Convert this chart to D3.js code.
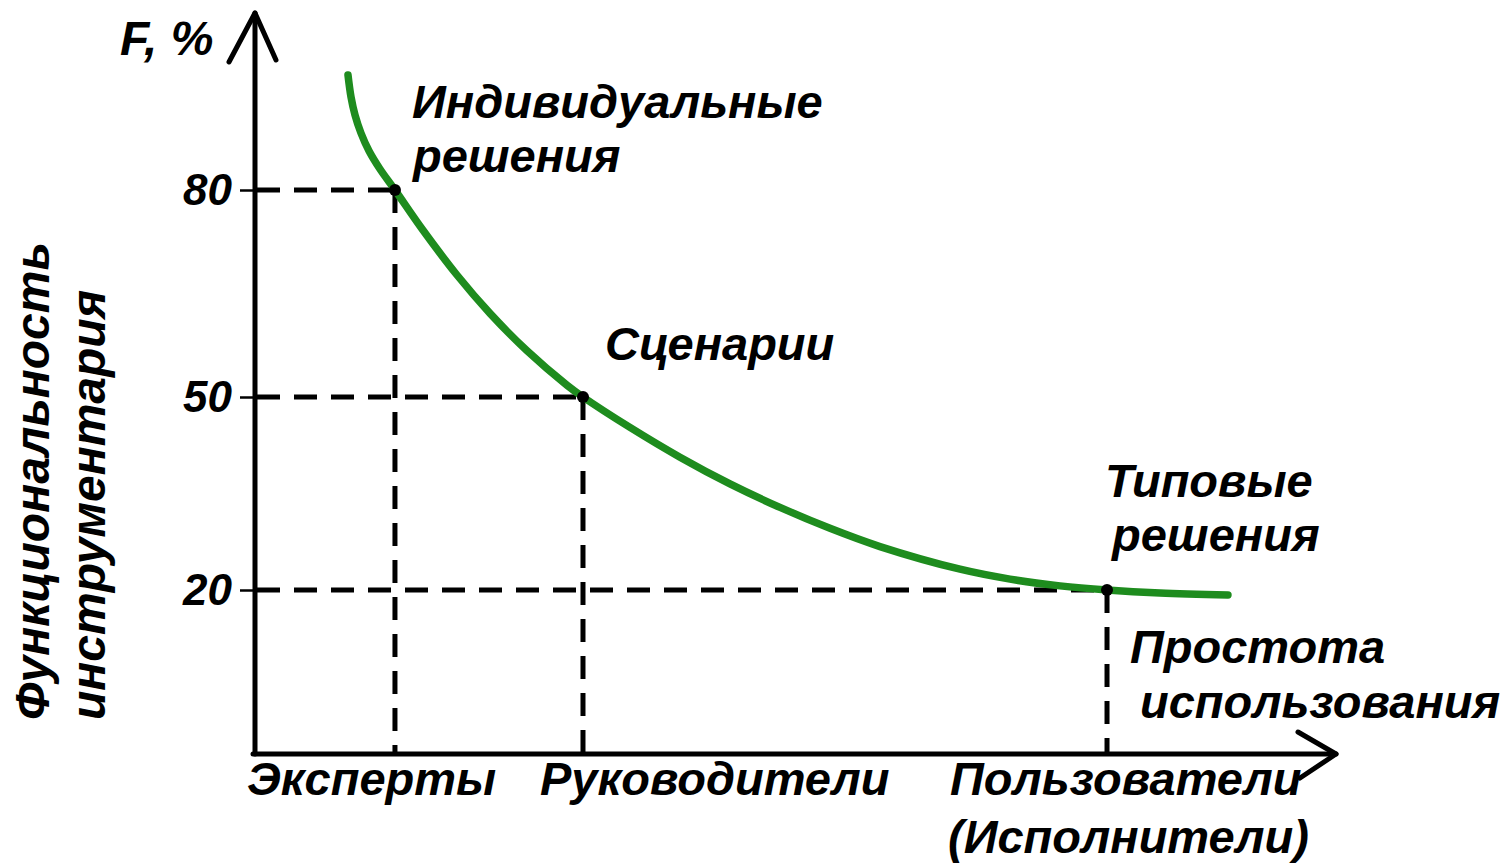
<!DOCTYPE html>
<html>
<head>
<meta charset="utf-8">
<script src="https://cdn.jsdelivr.net/npm/d3@7"></script>
<style>
  body { margin: 0; background: #fff; }
  svg { display: block; }
  text { font-family: "Liberation Sans", Arial, sans-serif; font-weight: bold; font-style: italic; fill: #000; }
</style>
</head>
<body>
<script>
// curve: functionality vs. user group (x in % of axis length, y in F, %)
const curveX = [8.61, 8.89, 9.26, 9.81, 10.56, 11.57, 12.96, 15.56, 18.70, 21.76, 25.19, 28.89, 30.37,
  34.72, 39.35, 43.98, 48.61, 53.24, 57.87, 65.28, 69.91, 74.54, 78.89, 83.80, 90.09]
const curveY = [96.67, 93.48, 90.87, 88.26, 85.65, 83.04, 80, 74.16, 67.68, 62.12, 56.70, 51.71, 50,
  45.27, 40.64, 36.49, 32.84, 29.59, 26.75, 23.23, 21.69, 20.64, 20, 19.63, 19.39]

// marked points
const groups = ["Эксперты", "Руководители", "Пользователи"]
const groupX = [12.96, 30.37, 78.89]
const groupF = [80, 50, 20]
const groupExtra = [null, null, "(Исполнители)"]
const pointLabels = [["Индивидуальные", "решения"], ["Сценарии"], ["Типовые", "решения"]]

const yTicks = [20, 50, 80]
const yTitle = ["Функциональность", "инструментария"]
const xNote = ["Простота", "использования"]

const width = 1504
const height = 865
const fs = 47

const svg = d3.select("body").append("svg")
    .attr("width", width)
    .attr("height", height)

const x = d3.scaleLinear().domain([0, 100]).range([255, 1335])
const y = d3.scaleLinear().domain([0, 20, 50, 80, 100]).range([754, 590, 397, 190, 52])

const pts = groups.map((g, i) => ({ name: g, x: groupX[i], f: groupF[i], extra: groupExtra[i], lab: pointLabels[i] }))

// dashed guides
const guides = svg.append("g")
    .attr("stroke", "#000")
    .attr("stroke-width", 5)
    .attr("stroke-dasharray", "23,14")
    .attr("fill", "none")

guides.selectAll("line.h")
  .data(pts)
  .join("line")
    .attr("class", "h")
    .attr("x1", x(0) + 2)
    .attr("x2", d => x(d.x))
    .attr("y1", d => y(d.f))
    .attr("y2", d => y(d.f))

guides.selectAll("line.v")
  .data(pts)
  .join("line")
    .attr("class", "v")
    .attr("x1", d => x(d.x))
    .attr("x2", d => x(d.x))
    .attr("y1", d => y(d.f))
    .attr("y2", y(0))

// y ticks + labels
const yAxis = svg.append("g")
    .attr("transform", `translate(${x(0)},0)`)
    .call(d3.axisLeft(y).tickValues(yTicks).tickSize(15).tickPadding(8))
yAxis.select(".domain").remove()
yAxis.selectAll(".tick line").attr("stroke", "#000").attr("stroke-width", 2.5)
yAxis.selectAll(".tick text")
    .attr("font-size", 44)
    .attr("font-family", null)
    .attr("fill", "#000")

// axes with open arrow heads
const ax = svg.append("g")
    .attr("stroke", "#000")
    .attr("stroke-width", 5)
    .attr("fill", "none")
    .attr("stroke-linecap", "round")
    .attr("stroke-linejoin", "round")

ax.append("path")
    .attr("d", `M${x(0)},${y(0)}V13`)
ax.append("path")
    .attr("d", `M${x(0) - 26},62L${x(0)},13L${x(0) + 21},60`)
ax.append("path")
    .attr("d", `M${x(0) - 2},${y(0)}H1336`)
ax.append("path")
    .attr("d", `M1298,${y(0) - 22}L1336,${y(0)}L1300,${y(0) + 24}`)

// green curve
const line = d3.line()
    .x(d => x(d[0]))
    .y(d => y(d[1]))
    .curve(d3.curveCatmullRom.alpha(0.5))

svg.append("path")
    .datum(d3.zip(curveX, curveY))
    .attr("d", line)
    .attr("fill", "none")
    .attr("stroke", "#1e8c1e")
    .attr("stroke-width", 7.5)
    .attr("stroke-linecap", "round")

// points
svg.selectAll("circle")
  .data(pts)
  .join("circle")
    .attr("cx", d => x(d.x))
    .attr("cy", d => y(d.f))
    .attr("r", 6)
    .attr("fill", "#000")

// point labels (offsets are layout only)
const labOff = [[17, -72], [22, -37], [-2, -93]]
pts.forEach((d, i) => {
  const t = svg.append("text")
      .attr("font-size", fs)
      .attr("x", x(d.x) + labOff[i][0])
      .attr("y", y(d.f) + labOff[i][1])
  d.lab.forEach((s, j) => {
    t.append("tspan")
        .attr("x", x(d.x) + labOff[i][0] + (j ? (i === 0 ? 1 : 7) : 0))
        .attr("dy", j ? 54 : 0)
        .text(s)
  })
})

// x category labels
const catOff = [-148, -43, -157]
pts.forEach((d, i) => {
  svg.append("text")
      .attr("font-size", fs)
      .attr("x", x(d.x) + catOff[i])
      .attr("y", y(0) + 41)
      .text(d.name)
  if (d.extra) {
    svg.append("text")
        .attr("font-size", fs)
        .attr("x", x(d.x) + catOff[i] - 2)
        .attr("y", y(0) + 99)
        .text(d.extra)
  }
})

// note under the last point
const last = pts[2]
svg.append("text")
    .attr("font-size", fs)
    .attr("x", x(last.x) + 23)
    .attr("y", y(last.f) + 73)
    .text(xNote[0])
svg.append("text")
    .attr("font-size", fs)
    .attr("x", x(last.x) + 33)
    .attr("y", y(last.f) + 128)
    .text(xNote[1])

// axis names
svg.append("text")
    .attr("font-size", 48)
    .attr("x", 120)
    .attr("y", 55)
    .text("F, %")

yTitle.forEach((s, i) => {
  svg.append("text")
      .attr("font-size", 48)
      .attr("transform", `translate(${i ? 105 : 49},720) rotate(-90)`)
      .text(s)
})
</script>
</body>
</html>
